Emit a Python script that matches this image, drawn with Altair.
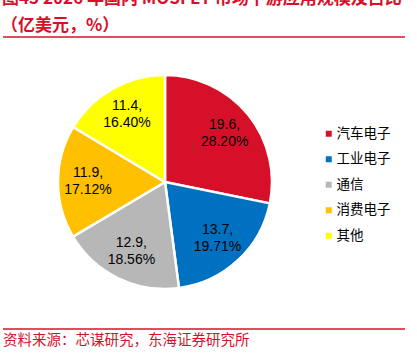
import altair as alt
import pandas as pd

categories = ["汽车电子", "工业电子", "通信", "消费电子", "其他"]
values = [19.6, 13.7, 12.9, 11.9, 11.4]
shares = ["28.20%", "19.71%", "18.56%", "17.12%", "16.40%"]
colors = ["#D7102A", "#0070C0", "#B7B7B7", "#FFC000", "#FFFF00"]

df = pd.DataFrame({
    "cat": categories,
    "value": values,
    "share": shares,
    "order": list(range(len(categories))),
})
df["label"] = [f"{v}," + "\n" + s for v, s in zip(values, shares)]

CX, CY, R = 165, 182, 107

theta = alt.Theta("value:Q", stack=True)
color = alt.Color(
    "cat:N",
    scale=alt.Scale(domain=categories, range=colors),
    sort=categories,
    legend=alt.Legend(
        title=None,
        orient="none",
        legendX=322,
        legendY=127,
        symbolType="square",
        symbolSize=36,
        symbolStrokeWidth=0,
        labelFont="Noto Sans CJK SC",
        labelFontSize=13.5,
        labelColor="#000000",
        labelOffset=1,
        rowPadding=10.5,
        padding=0,
    ),
)

base = alt.Chart(df)

pie = base.mark_arc(outerRadius=R, stroke="white", strokeWidth=2.5).encode(
    theta=theta,
    color=color,
    order=alt.Order("order:Q"),
    x=alt.value(CX),
    y=alt.value(CY),
)

labels = base.mark_text(
    radius=77, font="Liberation Sans", fontSize=14, lineBreak="\n",
    lineHeight=17, color="#000000", align="center", baseline="middle", dy=-8.5,
).encode(
    theta=theta,
    text="label:N",
    order=alt.Order("order:Q"),
    x=alt.value(CX),
    y=alt.value(CY),
)

red = "#D7102A"
one = pd.DataFrame({"a": [0]})
t1 = alt.Chart(one).mark_text(
    text="图43  2026 年国内 MOSFET 市场下游应用规模及占比", font="Noto Sans CJK SC",
    fontSize=17, fontWeight="bold", color=red, align="left", baseline="alphabetic",
).encode(x=alt.value(2), y=alt.value(4))
t2 = alt.Chart(one).mark_text(
    text="（亿美元，%）", font="Noto Sans CJK SC",
    fontSize=17, fontWeight="bold", color=red, align="left", baseline="alphabetic",
).encode(x=alt.value(1), y=alt.value(31))
rule1 = alt.Chart(one).mark_rule(color=red, strokeWidth=1.5).encode(
    x=alt.value(3), x2=alt.value(405), y=alt.value(37))
rule2 = alt.Chart(one).mark_rule(color=red, strokeWidth=1.5).encode(
    x=alt.value(3), x2=alt.value(405), y=alt.value(329))
src = alt.Chart(one).mark_text(
    text="资料来源：芯谋研究，东海证券研究所", font="Noto Sans CJK SC",
    fontSize=14.5, color=red, align="left", baseline="middle",
).encode(x=alt.value(3), y=alt.value(341))

chart = alt.layer(pie, labels, t1, t2, rule1, rule2, src).properties(
    width=417, height=355, padding=0,
    autosize=alt.AutoSizeParams(type="none"),
).configure_view(stroke=None)

chart.save("out.html", embed_options={"renderer": "svg", "actions": False})
